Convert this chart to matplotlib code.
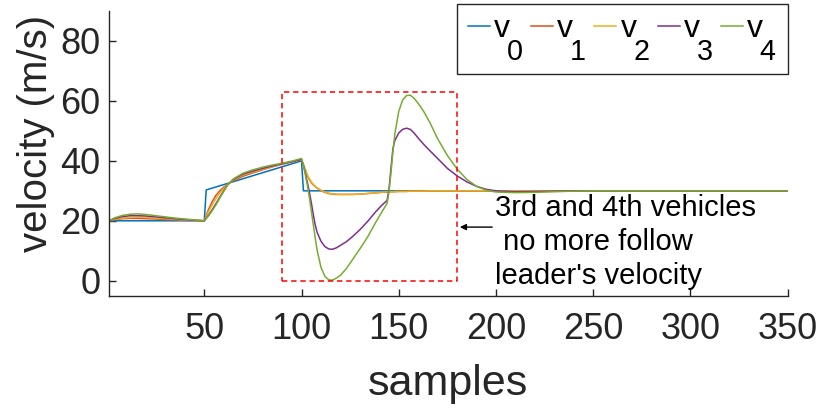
import numpy as np
import matplotlib.pyplot as plt
from matplotlib import _mathtext

plt.rcParams['font.family'] = ['Liberation Sans', 'DejaVu Sans']
plt.rcParams['mathtext.fontset'] = 'custom'
plt.rcParams['mathtext.rm'] = 'Liberation Sans'
# MATLAB legend draws big, low subscripts tight against the v
_mathtext.SHRINK_FACTOR = 0.9
_mathtext.FontConstantsBase.sub1 = 1.4
_mathtext.FontConstantsBase.delta = -0.15

# leader (v0)
k0 = [1, 50, 51, 100, 101, 350]
v0 = [20.0, 20.0, 30.3, 40.0, 30.0, 30.0]

# followers at these samples
k = [1, 4, 8, 12, 16, 20, 25, 30, 35, 40, 45, 50,
     52, 54, 56, 58, 60, 62, 65, 70, 75, 80, 85, 90, 95, 100,
     101, 102, 103, 104, 105, 106, 107, 108, 110, 112, 114, 116, 118, 120,
     123, 126, 130, 134, 138, 141, 144,
     145, 146, 147, 148, 150, 152, 154, 156, 158, 160, 163, 166, 170,
     175, 180, 185, 190, 195, 200, 210, 220, 230, 240, 250, 350]

v1 = [20.0, 20.4, 20.7, 20.8, 20.8, 20.7, 20.6, 20.4, 20.3, 20.2, 20.1, 20.0,
      23.5, 26.3, 28.5, 30.0, 31.2, 32.2, 33.4, 34.9, 36.0, 37.0, 38.0, 38.9, 39.7, 40.4,
      38.6, 36.8, 35.1, 33.8, 32.8, 32.0, 31.4, 30.9, 30.1, 29.5, 29.1, 28.9, 28.8, 28.8,
      28.8, 28.8, 28.9, 29.1, 29.3, 29.5, 29.6,
      29.7, 29.7, 29.7, 29.7, 29.8, 29.8, 29.8, 29.9, 29.9, 29.9, 29.9, 30.0, 30.0,
      30.0, 30.0, 30.0, 30.0, 30.0, 30.0, 30.0, 30.0, 30.0, 30.0, 30.0, 30.0]

v2 = [20.0, 20.5, 20.9, 21.1, 21.2, 21.1, 20.9, 20.7, 20.5, 20.3, 20.1, 20.0,
      22.8, 25.2, 27.4, 29.3, 30.8, 32.1, 33.6, 35.3, 36.3, 37.2, 38.1, 38.9, 39.7, 40.4,
      38.8, 37.0, 35.3, 34.0, 33.0, 32.2, 31.5, 31.0, 30.2, 29.6, 29.2, 29.0, 28.9, 28.8,
      28.8, 28.8, 28.9, 29.1, 29.3, 29.5, 29.7,
      29.7, 29.7, 29.7, 29.8, 29.8, 29.8, 29.8, 29.9, 29.9, 29.9, 29.9, 30.0, 30.0,
      30.0, 30.0, 30.0, 30.0, 30.0, 30.0, 30.0, 30.0, 30.0, 30.0, 30.0, 30.0]

v3 = [20.0, 20.8, 21.4, 21.7, 21.7, 21.6, 21.3, 21.0, 20.7, 20.4, 20.2, 20.0,
      21.7, 23.6, 25.7, 27.9, 30.0, 32.0, 33.8, 35.6, 36.6, 37.5, 38.3, 39.0, 39.7, 40.5,
      38.5, 35.8, 32.8, 29.8, 26.2, 22.3, 18.8, 16.2, 13.2, 11.4, 10.6, 10.5, 11.0, 11.8,
      13.0, 14.6, 17.0, 19.8, 22.9, 25.0, 26.8,
      30.5, 37.5, 44.0, 46.8, 49.3, 50.5, 50.9, 50.5, 49.2, 47.6, 45.4, 43.4, 40.8,
      37.5, 35.0, 33.0, 31.5, 30.5, 30.0, 29.7, 29.8, 29.9, 30.0, 30.0, 30.0]

v4 = [20.0, 21.0, 21.8, 22.2, 22.3, 22.1, 21.7, 21.3, 20.9, 20.6, 20.3, 20.0,
      21.5, 23.3, 25.3, 27.6, 29.8, 32.0, 34.0, 35.9, 37.0, 37.9, 38.6, 39.2, 39.9, 40.8,
      38.5, 35.3, 32.0, 28.0, 23.5, 19.0, 14.5, 10.3, 4.5, 1.5, 0.3, 0.2, 0.9, 1.8,
      4.0, 6.8, 10.6, 14.6, 19.3, 22.6, 25.8,
      29.7, 36.0, 43.0, 49.0, 56.5, 60.3, 61.8, 61.9, 60.8, 59.2, 56.3, 52.8, 47.4,
      41.8, 37.3, 33.8, 31.5, 30.2, 29.6, 29.4, 29.5, 29.7, 29.9, 30.0, 30.0]

labels = [r'$\mathregular{v_0}$', r'$\mathregular{v_1}$', r'$\mathregular{v_2}$',
          r'$\mathregular{v_3}$', r'$\mathregular{v_4}$']
colors = ['#0072BD', '#D95319', '#EDB120', '#7E2F8E', '#77AC30']

# highlighted window (samples 90..180, velocity 0..63)
box_k = [90, 180]
box_v = [0, 63]

fig = plt.figure(figsize=(8.3, 4.08), dpi=100)
ax = fig.add_axes([0.1313, 0.2752, 0.8177, 0.6978])

series = [(k0, v0), (k, v1), (k, v2), (k, v3), (k, v4)]
for (xx, yy), c, lab in zip(series, colors, labels):
    ax.plot(xx, yy, color=c, lw=1.1, label=lab)

ax.plot([box_k[0], box_k[1], box_k[1], box_k[0], box_k[0]],
        [box_v[0], box_v[0], box_v[1], box_v[1], box_v[0]],
        color='#FF0000', lw=1.1, dashes=(3.5, 2.5))

ax.annotate('', xy=(180, 17.9), xytext=(199.5, 17.9),
            arrowprops=dict(arrowstyle='-|>', color='k', lw=1.0, mutation_scale=9))
# va='baseline' puts the last line on y
ax.text(199.6, -1.1, "3rd and 4th vehicles\n no more follow\nleader's velocity",
        fontsize=21, va='baseline', ha='left', color='k', linespacing=1.28)

ax.set_xlim(1, 350)
ax.set_ylim(-5, 90)
ax.set_xticks([50, 100, 150, 200, 250, 300, 350])
ax.set_yticks([0, 20, 40, 60, 80])

for s in ['top', 'right']:
    ax.spines[s].set_visible(False)
for s in ['left', 'bottom']:
    ax.spines[s].set_color('#262626')
    ax.spines[s].set_linewidth(1.0)
ax.tick_params(direction='in', length=5, width=1.0, colors='#262626',
               labelsize=26, labelcolor='#262626')
ax.tick_params(axis='x', pad=12)
ax.tick_params(axis='y', pad=6)

ax.set_xlabel('samples', fontsize=31, color='#262626', labelpad=12)
ax.set_ylabel('velocity (m/s)', fontsize=29, color='#262626')
ax.yaxis.set_label_coords(-0.079, 0.57)

leg = ax.legend(loc='upper right', bbox_to_anchor=(1.0, 1.0246), ncol=5,
                fontsize=23, frameon=True, fancybox=False, framealpha=1,
                edgecolor='#262626', handlelength=0.69, handletextpad=0.1,
                columnspacing=0.24, borderpad=0.33, borderaxespad=0.0)
leg.get_frame().set_linewidth(1.0)

fig.savefig('out.png', dpi=100)
